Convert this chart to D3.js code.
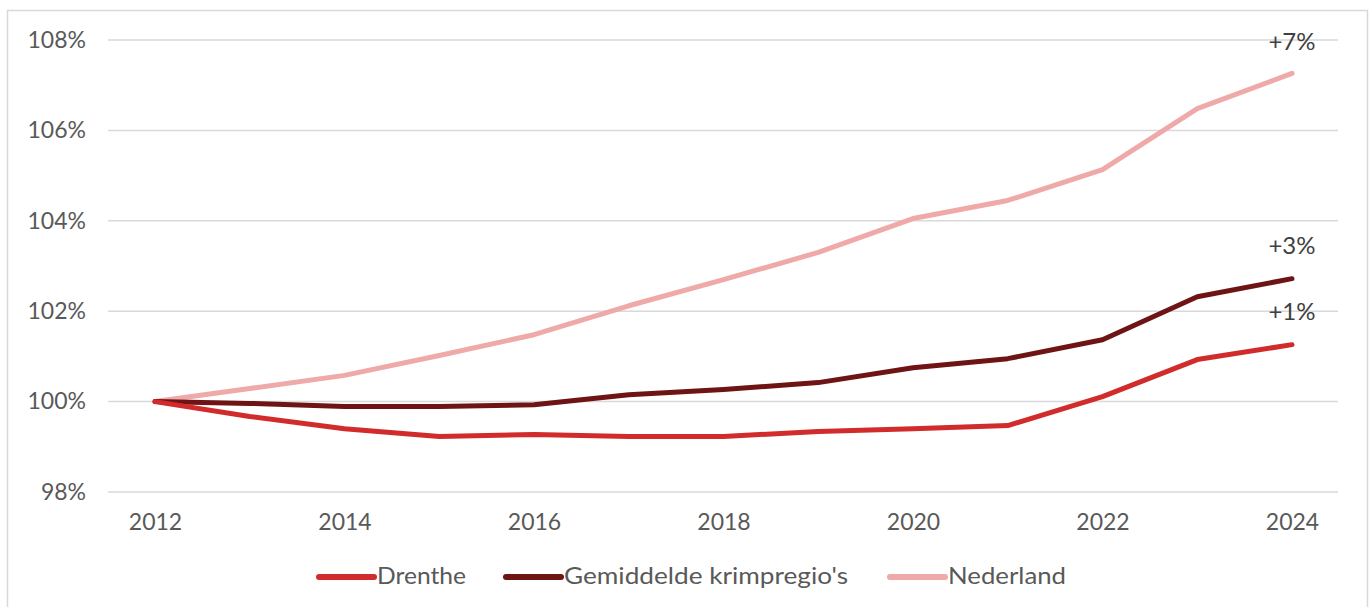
<!DOCTYPE html>
<html><head><meta charset="utf-8">
<script src="https://cdn.jsdelivr.net/npm/d3@7"></script>
<style>body{margin:0;background:#fff;} text{font-family:Lato,"Noto Sans",sans-serif;}</style>
</head><body><svg id="c" width="1370" height="607"></svg>
<script>
const years = [2012,2013,2014,2015,2016,2017,2018,2019,2020,2021,2022,2023,2024];
const drenthe = [100,99.67,99.40,99.23,99.27,99.23,99.23,99.34,99.40,99.47,100.11,100.93,101.26];
const krimp = [100,99.96,99.89,99.89,99.93,100.15,100.27,100.42,100.75,100.95,101.37,102.32,102.72];
const nederland = [100,100.29,100.58,101.02,101.48,102.12,102.70,103.30,104.05,104.45,105.13,106.48,107.26];
const seriesNames = ["Drenthe","Gemiddelde krimpregio's","Nederland"];
const seriesColors = ["#d22b2b","#6e1414","#f0a9a9"];
const yTicks = [98,100,102,104,106,108];
const xTickLabels = [2012,2014,2016,2018,2020,2022,2024];
const endLabels = ["+1%","+3%","+7%"];

const svg = d3.select("#c");
svg.append("rect").attr("x",7.5).attr("y",10.5).attr("width",1360).attr("height",620)
  .attr("fill","none").attr("stroke","#d9d9d9").attr("stroke-width",1.5);

const x = d3.scalePoint().domain(years).range([155,1292]);
const y = d3.scaleLinear().domain([98,108]).range([492,40]);

const g = svg.append("g");
g.selectAll("line.grid").data(yTicks).join("line")
  .attr("x1",108).attr("x2",1338).attr("y1",d=>y(d)).attr("y2",d=>y(d))
  .attr("stroke","#d9d9d9").attr("stroke-width",1.5);

const yAxis = d3.axisLeft(y).tickValues(yTicks).tickFormat(d=>d+"%").tickSize(0).tickPadding(0);
svg.append("g").attr("transform","translate(86,0)").call(yAxis)
  .call(s=>s.select(".domain").remove())
  .selectAll("text").attr("font-size",23).attr("fill","#595959").attr("font-family","Lato,'Noto Sans',sans-serif");

const xAxis = d3.axisBottom(x).tickValues(xTickLabels).tickSize(0).tickPadding(0);
svg.append("g").attr("transform","translate(0,514)").call(xAxis)
  .call(s=>s.select(".domain").remove())
  .selectAll("text").attr("font-size",23).attr("fill","#595959").attr("font-family","Lato,'Noto Sans',sans-serif");

const data = [drenthe,krimp,nederland];
const line = d3.line().x((d,i)=>x(years[i])).y(d=>y(d));
[2,1,0].forEach(i=>{
  g.append("path").attr("d",line(data[i])).attr("fill","none")
   .attr("stroke",seriesColors[i]).attr("stroke-width",5)
   .attr("stroke-linejoin","round").attr("stroke-linecap","round");
});

// end labels
const labelY = [312,246,42];
endLabels.forEach((t,i)=>{
  svg.append("text").attr("x",x(2024)).attr("y",labelY[i]).attr("dy","0.35em")
    .attr("text-anchor","middle").attr("font-size",24).attr("fill","#404040").text(t);
});

// legend
const legX = [319,506,890];
const legW = [89,284,118];
seriesNames.forEach((n,i)=>{
  svg.append("line").attr("x1",legX[i]).attr("x2",legX[i]+55).attr("y1",577).attr("y2",577)
    .attr("stroke",seriesColors[i]).attr("stroke-width",6).attr("stroke-linecap","round");
  svg.append("text").attr("x",legX[i]+58).attr("y",576).attr("dy","0.35em")
    .attr("font-size",24).attr("fill","#595959")
    .attr("textLength",legW[i]).attr("lengthAdjust","spacingAndGlyphs").text(n);
});
</script></body></html>
